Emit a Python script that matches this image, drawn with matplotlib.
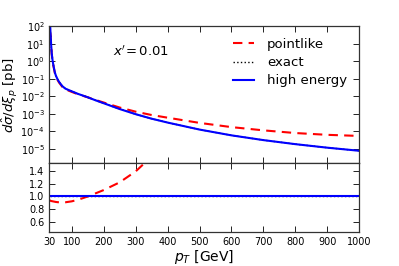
import matplotlib
matplotlib.use("Agg")
import matplotlib.pyplot as plt
import numpy as np

# pT grid [GeV]
pt = [31, 33, 35, 37, 40, 43, 47, 50, 55, 60, 70, 80, 100, 120, 150, 175, 200,
      250, 300, 350, 400, 500, 600, 700, 800, 900, 1000]
# high energy cross section [pb]
high_energy = [3.2e2, 5.0e1, 1.0e1, 2.8e0, 1.0e0, 5.0e-1, 2.24e-1, 1.51e-1, 9.5e-2,
               6.6e-2, 3.8e-2, 2.7e-2, 1.9e-2, 1.35e-2, 8.7e-3, 5.8e-3, 3.98e-3,
               1.86e-3, 9.5e-4, 5.25e-4, 3.16e-4, 1.26e-4, 5.9e-5, 3.16e-5, 1.86e-5,
               1.17e-5, 7.8e-6]
# exact (coincides with high energy curve)
exact = list(high_energy)
# pointlike / high energy ratio
pointlike_ratio = [0.94, 0.935, 0.93, 0.928, 0.925, 0.922, 0.918, 0.915, 0.912,
                   0.91, 0.908, 0.91, 0.925, 0.95, 1.0, 1.05, 1.1,
                   1.22, 1.39, 1.62, 1.9, 2.4, 2.95, 3.6, 4.3, 5.4, 7.0]

pointlike = np.array(high_energy) * np.array(pointlike_ratio)
ratio_exact = np.array(exact) / np.array(high_energy)
ratio_high = np.array(high_energy) / np.array(high_energy)

xticks = [30, 100, 200, 300, 400, 500, 600, 700, 800, 900, 1000]
yticks_ratio = [0.6, 0.8, 1.0, 1.2, 1.4]

fig = plt.figure(figsize=(3.99, 2.66), dpi=100)
ax1 = fig.add_axes([0.124, 0.386, 0.776, 0.516])
ax2 = fig.add_axes([0.124, 0.127, 0.776, 0.259], sharex=ax1)

dash = (4.5, 3.0)
ax1.plot(pt, pointlike, color='red', lw=1.5, ls='--', dashes=dash, label='pointlike')
ax1.plot(pt, exact, color='black', lw=1.0, ls=':', label='exact')
ax1.plot(pt, high_energy, color='blue', lw=1.5, label='high energy')
ax1.set_yscale('log')
ax1.set_ylim(1.5e-6, 1e2)
ax1.set_xlim(30, 1000)
ax1.set_yticks([1e-5, 1e-4, 1e-3, 1e-2, 1e-1, 1e0, 1e1, 1e2])
ax1.tick_params(labelbottom=False)
ax1.set_ylabel(r'$d\hat{\sigma}/d\xi_p$ [pb]', fontsize=9.5)
ax1.text(0.205, 0.81, r"$x'\!=0.01$", fontsize=9.5, va='center', ha='left',
         transform=ax1.transAxes)
leg = ax1.legend(loc='upper right', frameon=False, fontsize=9.5,
                 handlelength=1.6, handletextpad=1.0, labelspacing=0.4)

ax2.plot(pt, pointlike_ratio, color='red', lw=1.5, ls='--', dashes=dash)
ax2.plot(pt, ratio_exact, color='black', lw=1.0, ls=':')
ax2.plot(pt, ratio_high, color='blue', lw=1.5)
ax2.set_ylim(0.445, 1.515)
ax2.set_yticks(yticks_ratio)
ax2.set_xticks(xticks)
ax2.set_xticklabels([str(v) for v in xticks])
ax2.set_xlabel(r'$p_T$ [GeV]', fontsize=10, labelpad=1)

for ax in (ax1, ax2):
    ax.tick_params(which='both', direction='in', top=True, right=True, labelsize=7)
    ax.tick_params(which='major', length=4, width=0.6)
    ax.tick_params(which='minor', length=2, width=0.5)
    for s in ax.spines.values():
        s.set_linewidth(0.9)
        s.set_color('#333333')

ax1.yaxis.set_label_coords(-0.095, 0.5)

fig.savefig('out.png', dpi=100)
